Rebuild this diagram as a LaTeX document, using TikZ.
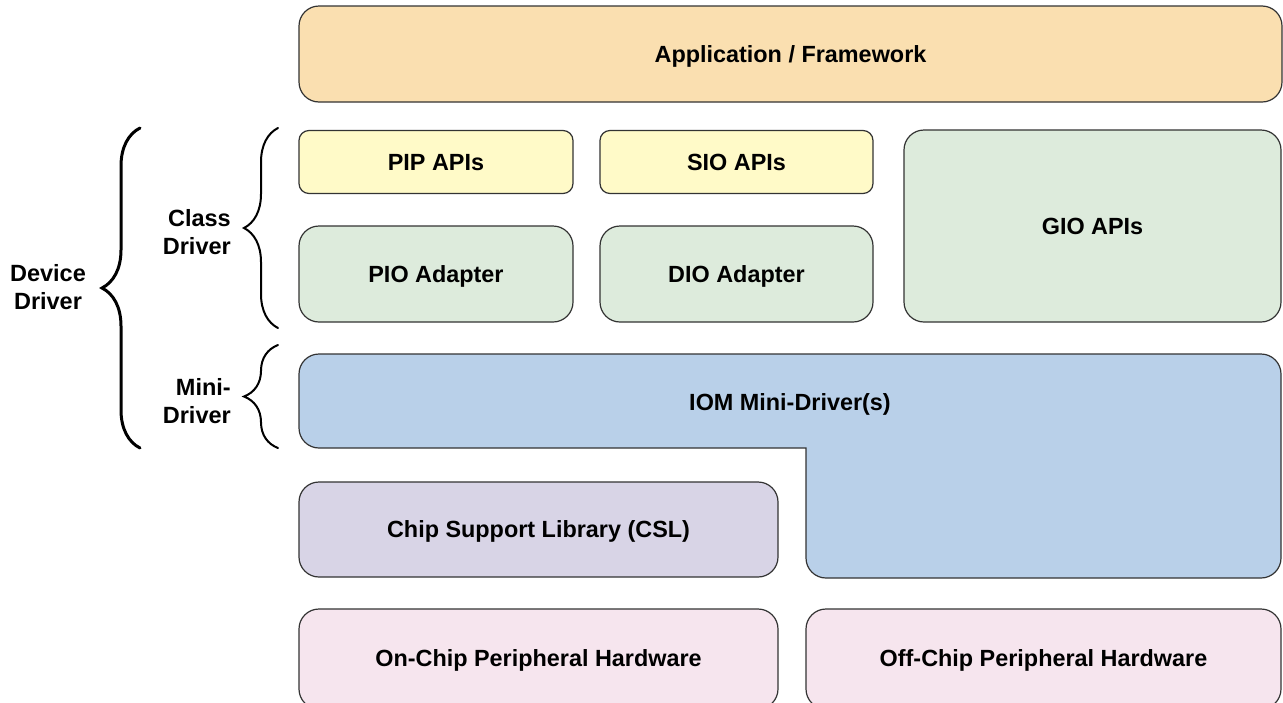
\documentclass[tikz,border=0pt]{standalone}
\usepackage{fontspec}
\setmainfont{Liberation Sans}
\usetikzlibrary{decorations.pathreplacing}
\definecolor{appfill}{HTML}{FADFB0}
\definecolor{apifill}{HTML}{FFFAC8}
\definecolor{grnfill}{HTML}{DDEBDC}
\definecolor{iomfill}{HTML}{B9D0E9}
\definecolor{cslfill}{HTML}{D8D4E6}
\definecolor{hwfill}{HTML}{F6E5EE}
\definecolor{edge}{HTML}{333333}
\tikzset{
  blk/.style={draw=edge, line width=1.2pt, rounded corners=#1, inner sep=0pt,
    font=\fontsize{23.4}{27}\selectfont\bfseries, align=center,
    text height=16.8pt, text depth=0pt},
  blk/.default=10pt,
  lbl/.style={font=\fontsize{23.5}{28}\selectfont\bfseries, align=right, inner sep=0pt},
  brc/.style={decorate, line width=#1, line cap=round},
}
\begin{document}
\begin{tikzpicture}[x=1pt,y=-1pt]
\useasboundingbox (0,0) rectangle (1283,702);
% Application
\node[blk=20pt, fill=appfill, minimum width=983pt, minimum height=96pt] (app) at (790.5,54) {Application / Framework};
% APIs
\node[blk, fill=apifill, minimum width=274pt, minimum height=63pt] (pip) at (436,162) {PIP APIs};
\node[blk, fill=apifill, minimum width=273pt, minimum height=63pt] (sio) at (736.5,162) {SIO APIs};
\node[blk=20pt, fill=grnfill, minimum width=377pt, minimum height=192pt] (gio) at (1092.5,226) {GIO APIs};
\node[blk=20pt, fill=grnfill, minimum width=274pt, minimum height=96pt] (pio) at (436,274) {PIO Adapter};
\node[blk=20pt, fill=grnfill, minimum width=273pt, minimum height=96pt] (dio) at (736.5,274) {DIO Adapter};
% IOM shape
\draw[draw=edge, line width=1.2pt, fill=iomfill]
  (299,374) [rounded corners=20pt] -- (299,354) -- (1281,354) -- (1281,578) -- (806,578) [sharp corners] -- (806,448) [rounded corners=20pt] -- (299,448) [sharp corners] -- cycle;
\node[blk, draw=none] (iom) at (790,402) {IOM Mini-Driver(s)};
% CSL
\node[blk=20pt, fill=cslfill, minimum width=479pt, minimum height=95pt] (csl) at (538.5,529.5) {Chip Support Library (CSL)};
% Hardware
\node[blk=20pt, fill=hwfill, minimum width=479pt, minimum height=100pt] (onc) at (538.5,659) {};
\node[blk, draw=none] (onct) at (538.5,658) {On-Chip Peripheral Hardware};
\node[blk=20pt, fill=hwfill, minimum width=475pt, minimum height=100pt] (offc) at (1043.5,659) {};
\node[blk, draw=none] (offct) at (1043.5,658) {Off-Chip Peripheral Hardware};
% Braces
\coordinate (ddb) at (140,448);
\coordinate (ddt) at (140,128);
\draw[brc=3pt, decoration={brace, amplitude=38pt, aspect=0.5}] (ddb) -- (ddt);
\coordinate (cdb) at (278,328);
\coordinate (cdt) at (278,128);
\draw[brc=2pt, decoration={brace, amplitude=34pt, aspect=0.5}] (cdb) -- (cdt);
\coordinate (mdb) at (278,448);
\coordinate (mdt) at (278,345);
\draw[brc=2pt, decoration={brace, amplitude=34pt, aspect=0.5}] (mdb) -- (mdt);
% Labels
\node[lbl, align=center] (dd) at (48,287) {Device\\Driver};
\node[lbl, anchor=east] (cd) at (231,232) {Class\\Driver};
\node[lbl, anchor=east] (md) at (231,401) {Mini-\\Driver};
\end{tikzpicture}
\end{document}
